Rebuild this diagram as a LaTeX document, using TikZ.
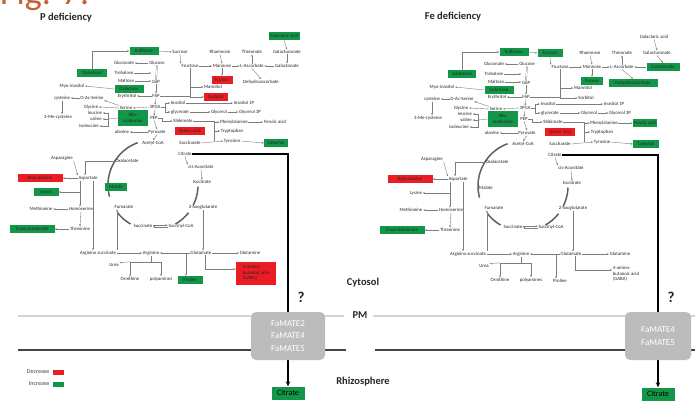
\documentclass[tikz,border=0pt]{standalone}
\usepackage{fontspec}
\setmainfont{Carlito}
\usetikzlibrary{arrows.meta}
\definecolor{gr}{RGB}{18,150,72}
\definecolor{rd}{RGB}{235,28,36}
\definecolor{figc}{RGB}{196,96,52}
\definecolor{lnk}{RGB}{125,125,125}
\definecolor{tca}{RGB}{95,95,95}
\definecolor{famc}{RGB}{188,188,188}

\newcommand\drawpanel{%
  % TCA cycle arcs
  \draw[arcst] plot[domain=110:195,samples=30] ({153+45*cos(\x)},{185-45*sin(\x)});
  \draw[arcst] plot[domain=218:240,samples=10] ({153+45*cos(\x)},{185-45*sin(\x)});
  \draw[arcst] plot[domain=-60:-38,samples=10] ({153+45*cos(\x)},{185-45*sin(\x)});
  \draw[arcst] plot[domain=-27:-2,samples=10] ({153+45*cos(\x)},{185-45*sin(\x)});
  % nodes
  \node[s-galac] (galac) at (284,36) {Galactaric acid};
  \node[s-raf] (raf) at (144,51) {Raffinose};
  \node[s-suc] (suc) at (180,52) {Sucrose};
  \node[lab] (rham) at (220,52) {Rhamnose};
  \node[lab] (thre) at (252,52) {Threonate};
  \node[lab] (galur) at (287,52) {Galacturonate};
  \node[lab] (glcn) at (124,63) {Gluconate};
  \node[lab] (glc) at (157,63) {Glucose};
  \node[lab] (fru) at (190,66) {Fructose};
  \node[lab] (man) at (222,66) {Mannose};
  \node[lab] (asc) at (252,66) {L-Ascorbate};
  \node[s-galon] (galon) at (287,66) {Galactonate};
  \node[s-galnol] (galnol) at (92,73) {Galactinol};
  \node[lab] (treh) at (124,73) {Trehalose};
  \node[lab] (malt) at (126,81) {Maltose};
  \node[lab] (g6p) at (156,82) {G6P};
  \node[s-fuc] (fuc) at (222,80) {Fucose};
  \node[s-dha] (dha) at (261,82) {Dehydroascorbate};
  \node[lab] (myo) at (72,86) {Myo-inositol};
  \node[s-galose] (galose) at (129,89) {Galactose};
  \node[lab] (mtol) at (213,87) {Mannitol};
  \node[lab] (ery) at (127,96) {Erythritol};
  \node[lab] (f6p) at (156,96) {F6P};
  \node[s-sorb] (sorb) at (216,97) {Sorbitol};
  \node[lab] (cys) at (62,98) {cysteine};
  \node[lab] (oas) at (92,98) {O-Ac-Serine};
  \node[lab] (ino) at (178,103) {Inositol};
  \node[lab] (ino1p) at (244,103) {Inositol 1P};
  \node[lab] (gly) at (91,107) {Glycine};
  \node[lab] (ser) at (126,108) {Serine};
  \node[lab] (pga) at (155,107) {3PGA};
  \node[lab] (glyc) at (180,112) {glycerate};
  \node[lab] (glol) at (219,112) {Glycerol};
  \node[lab] (g3p) at (250,112) {Glycerol 3P};
  \node[lab] (leu) at (95,113) {leucine};
  \node[lab] (val) at (96,119) {valine};
  \node[lab] (ile) at (89,126) {isoleucine};
  \node[lab] (mecys) at (58,117) {3-Me-cysteine};
  \node[s-aiso,align=center] (aiso) at (133,118) {Allo-\\Isoleucine};
  \node[lab] (pep) at (154,118) {PEP};
  \node[lab] (shik) at (183,121) {Shikimate};
  \node[lab] (phe) at (234,122) {Phenylalanine};
  \node[s-fer] (fer) at (275,122) {Ferulic acid};
  \node[lab] (ala) at (122,132) {alanine};
  \node[lab] (pyr) at (157,132) {Pyruvate};
  \node[s-qui] (qui) at (190,131) {Quinic acid};
  \node[lab] (trp) at (232,131) {Tryptophan};
  \node[lab] (acoa) at (153,143) {Acetyl-CoA};
  \node[lab] (sacc) at (190,143) {Saccharate};
  \node[lab] (tyr) at (232,141) {Tyrosine};
  \node[s-cat] (cat) at (276,143) {Catechin};
  \node[lab] (cit) at (185,154) {Citrate};
  \node[lab] (asn) at (62,158) {Asparagine};
  \node[lab] (oaa) at (127,161) {Oxalacetate};
  \node[lab] (cisa) at (201,167) {cis-Aconitate};
  \node[s-bala] (bala) at (40,178) {Beta-alanine};
  \node[lab] (asp) at (88,178) {Aspartate};
  \node[lab] (isoc) at (202,182) {Isocitrate};
  \node[s-mal] (mal) at (116,187) {Malate};
  \node[s-lys] (lys) at (46,192) {Lysine};
  \node[lab] (met) at (41,209) {Methionine};
  \node[lab] (hom) at (81,209) {Homoserine};
  \node[lab] (fum) at (124,207) {Fumarate};
  \node[lab] (oxg) at (203,207) {2-oxoglutarate};
  \node[s-obut] (obut) at (32,229) {2-oxo-butanoate};
  \node[lab] (thr) at (80,229) {Threonine};
  \node[lab] (succ) at (143,226) {Succinate};
  \node[lab] (scoa) at (181,226) {Succinyl-CoA};
  \node[lab] (args) at (98,253) {Arginino succinate};
  \node[lab] (arg) at (151,253) {Arginine};
  \node[lab] (glu) at (201,253) {Glutamate};
  \node[lab] (gln) at (250,253) {Glutamine};
  \node[lab] (urea) at (114,265) {Urea};
  \node[lab] (orn) at (130,279) {Ornithine};
  \node[lab] (pa) at (161,279) {polyamines};
  \node[s-pro] (pro) at (190,280) {Proline};
  \node[s-gaba,align=left] (gaba) at (256,273) {4-amino-\\butanoic acid\\(GABA)};
  % connectors
  \draw[ln] (galac.south) -- (galur.north);
  \draw[ln] (galur.south) -- (galon.north);
  \draw[ln] (galon.west) -- (asc.east);
  \draw[ln] (asc.north) -- (thre.south);
  \draw[ln] (rham.south) -- (man.north);
  \draw[ln] (fru.east) -- (man.west);
  \draw[ln] (man.east) -- (asc.west);
  \draw[ln] (man.south) -- (fuc.north);
  \draw[ln] (asc.south) -- (dha.north);
  \draw[ln] (raf.east) -- (suc.west);
  \draw[ln] (suc.south) -- (fru.north west);
  \draw[ln] (galnol.north) |- (raf.west);
  \draw[ln] (galose.west) -- (myo.east);
  \draw[ln] (glc.west) -- (glcn.east);
  \draw[lnk,double=white,double distance=0.8pt,line width=0.35pt] (glc.south) -- (g6p.north);
  \draw[ln] (treh.east) -- (treh.east -| g6p.west);
  \draw[ln] (malt.east) -- (malt.east -| g6p.west);
  \draw[ln] (g6p.south) -- (f6p.north);
  \draw[ln] (f6p.west) -- (ery.east);
  \draw[pl] (fru.south) -- (fru.south |- sorb.west);
  \draw[ln] (fru.south |- mtol.west) -- (mtol.west);
  \draw[ln] (fru.south |- sorb.west) -- (sorb.west);
  \draw[pl] (f6p.east) -- (fru.south |- f6p.east);
  \draw[ln] (f6p.south) -- (pga.north);
  \draw[ln] (pga.south) -- (pep.north);
  \draw[ln] (pep.south) -- (pyr.north);
  \draw[ln] (pyr.south) -- (acoa.north);
  \draw[ln] (pga.west) -- (ser.east);
  \draw[ln] (ser.west) -- (gly.east);
  \draw[ln] (ser.north west) -- (oas.south east);
  \draw[ln] (oas.west) -- (cys.east);
  \draw[ln] (cys.south) -- (cys.south |- mecys.north);
  \coordinate (j3) at ([xshift=6pt]val.east);
  \draw[pl] (j3 |- leu.east) -- (j3 |- ile.east);
  \draw[pl] (aiso.west) -- (j3);
  \draw[ln] (j3 |- leu.east) -- (leu.east);
  \draw[ln] (j3) -- (val.east);
  \draw[ln] (j3 |- ile.east) -- (ile.east);
  \draw[ln] (pyr.west) -- (ala.east);
  \coordinate (j1) at ([xshift=4pt]pga.east);
  \draw[pl] (pga.east) -- (j1);
  \draw[ln] (j1) |- (ino.west);
  \draw[ln] (j1) |- (glyc.west);
  \coordinate (j4) at ([xshift=4pt]pep.east);
  \draw[pl] (pep.east) -- (j4);
  \draw[ln] (j4) |- (shik.west);
  \draw[ln] (ino.east) -- (ino1p.west);
  \draw[ln] (glyc.east) -- (glol.west);
  \draw[ln] (glol.east) -- (g3p.west);
  \coordinate (j5) at (214,121);
  \draw[pl] (shik.east) -- (j5);
  \draw[ln] (j5) |- (phe.west);
  \draw[pl] (j5) -- (j5 |- tyr.west);
  \draw[ln] (j5 |- trp.west) -- (trp.west);
  \draw[ln] (sacc.east) -- (tyr.west);
  \draw[ln] (phe.east) -- (fer.west);
  \draw[ln] (tyr.east) -- (cat.west);
  \draw[ln] (cit.south) -- (cisa.north west);
  \draw[ln] (cisa.south) -- (isoc.north);
  \draw[ln] ([yshift=0.8pt]succ.east) -- ([yshift=0.8pt]scoa.west);
  \draw[ln] ([yshift=-0.8pt]scoa.west) -- ([yshift=-0.8pt]succ.east);
  \draw[ln] (oaa.west) -| ([xshift=-3pt]asp.north);
  \draw[ln] (asn.south east) -- (asp.north west);
  \draw[ln] (asp.west) -- (bala.east);
  \draw[ln] ([xshift=-8pt]asp.south) -- ([xshift=-8pt]asp.south |- hom.north);
  \draw[ln] ([xshift=-8pt]asp.south |- lys.east) -- (lys.east);
  \draw[ln] (hom.west) -- (met.east);
  \draw[ln] (hom.south) -- (thr.north);
  \draw[ln] (thr.west) -- (obut.east);
  \draw[ln] ([xshift=5pt]asp.south) -- ([xshift=5pt]asp.south |- args.north);
  \draw[ln] ([xshift=-7pt]fum.south |- args.north) -- ([xshift=-7pt]fum.south);
  \draw[ln] (args.east) -- (arg.west);
  \draw[ln] (glu.west) -- (arg.east);
  \draw[ln] ([xshift=-4pt]glu.west) -- ([xshift=-4pt]glu.west |- pro.north);
  \draw[ln] (oxg.south) -- (oxg.south |- glu.north);
  \draw[ln] (glu.east) -- (gln.west);
  \draw[ln] ([xshift=4pt]glu.south) |- ([yshift=4pt]gaba.west);
  \coordinate (j2) at ([yshift=-6pt]arg.south);
  \draw[pl] (arg.south) -- (j2);
  \draw[ln] (j2) -| (orn.north);
  \draw[ln] (j2) -| (pa.north);
  \draw[ln] (j2 -| orn.north) -- (urea.north east);
}

\begin{document}
\begin{tikzpicture}[x=1pt,y=-1pt,
  lab/.style={font=\fontsize{4.8}{5.4}\selectfont, inner sep=0.6pt, text=black!85},
  gbox/.style={lab, fill=gr, minimum width=#1, minimum height=8pt, inner xsep=1pt},
  rbox/.style={lab, fill=rd, minimum width=#1, minimum height=8pt, inner xsep=1pt},
  ln/.style={draw=lnk, line width=0.4pt, -{Stealth[length=2.2pt,width=1.8pt]}},
  pl/.style={draw=lnk, line width=0.4pt},
  arcst/.style={draw=tca, line width=1.5pt},
  cline/.style={draw=black, line width=2pt, -{Stealth[length=5pt,width=4.5pt]}},
  famb/.style={fill=famc, rounded corners=5pt, text=white, font=\fontsize{9}{12.5}\selectfont, align=center, minimum height=48pt, inner sep=2pt},
  citb/.style={fill=gr, text=black, font=\fontsize{8}{9}\selectfont, minimum width=33pt, minimum height=13pt, inner sep=1pt},
  qmark/.style={font=\bfseries\fontsize{15}{15}\selectfont, text=black!85},
  bigl/.style={font=\bfseries\fontsize{10.5}{11}\selectfont, text=black!85},
  legt/.style={font=\fontsize{6}{7}\selectfont, text=black!75, anchor=east, inner sep=0.5pt},
]
\useasboundingbox (0,0) rectangle (695,401);
\clip (0,0) rectangle (695,401);
\fill[white] (0,0) rectangle (695,401);

\node[anchor=base west, text=figc, font=\fontsize{36}{36}\selectfont, inner sep=0pt] (fig) at (0,5) {Fig. 7.};
\node[bigl] (ptitle) at (66,17.5) {P deficiency};
\node[bigl] (ftitle) at (453,17) {Fe deficiency};

% membranes
\draw[draw={rgb,255:red,212;green,212;blue,212}, line width=1.3pt] (18,316) -- (344,316);
\draw[draw={rgb,255:red,212;green,212;blue,212}, line width=1.3pt] (373,316) -- (695,316);
\draw[draw={rgb,255:red,70;green,70;blue,70}, line width=2.5pt] (18,350) -- (346,350);
\draw[draw={rgb,255:red,70;green,70;blue,70}, line width=2.5pt] (375,350) -- (695,350);

\node[bigl] (cyto) at (363,283) {Cytosol};
\node[bigl] (pm) at (360,315) {PM};
\node[bigl] (rhizo) at (363,382) {Rhizosphere};

% legend
\node[legt] (dec) at (50,372) {Decrease};
\node[legt] (inc) at (50,384) {Increase};
\node[fill=rd, minimum width=11pt, minimum height=5pt, inner sep=0pt, anchor=west] (decsw) at ([xshift=3pt]dec.east) {};
\node[fill=gr, minimum width=11pt, minimum height=5pt, inner sep=0pt, anchor=west] (incsw) at ([xshift=3pt]inc.east) {};

% P deficiency panel
\begin{scope}[name prefix=P-,
  s-galac/.style={gbox=31pt}, s-raf/.style={gbox=29pt}, s-suc/.style={lab},
  s-galnol/.style={gbox=30pt}, s-galose/.style={gbox=29pt}, s-fuc/.style={rbox=21pt},
  s-dha/.style={lab}, s-galon/.style={lab}, s-sorb/.style={rbox=24pt},
  s-aiso/.style={gbox=30pt, minimum height=16pt}, s-fer/.style={lab},
  s-qui/.style={rbox=30pt}, s-cat/.style={gbox=24pt}, s-bala/.style={rbox=45pt},
  s-lys/.style={gbox=25pt}, s-mal/.style={gbox=22pt}, s-obut/.style={gbox=45pt},
  s-pro/.style={gbox=25pt}, s-gaba/.style={rbox=40pt, minimum height=23pt}]
  \drawpanel
  \node[citb] (citbox) at (288,393) {Citrate};
  \draw[cline] (cit.east) -| (citbox.north);
  \node[famb, minimum width=74pt] (fam) at (288,336) {FaMATE2\\FaMATE4\\FaMATE5};
  \node[qmark] (q) at (301,297) {?};
\end{scope}

% Fe deficiency panel
\begin{scope}[shift={(370,1)}, name prefix=F-,
  s-galac/.style={lab}, s-raf/.style={gbox=29pt}, s-suc/.style={gbox=25pt},
  s-galnol/.style={gbox=28pt}, s-galose/.style={gbox=29pt}, s-fuc/.style={gbox=22pt},
  s-dha/.style={gbox=49pt, xshift=2pt}, s-galon/.style={gbox=33pt, xshift=6pt}, s-sorb/.style={lab},
  s-aiso/.style={gbox=30pt, minimum height=15pt}, s-fer/.style={gbox=24pt},
  s-qui/.style={rbox=30pt}, s-cat/.style={gbox=26pt}, s-bala/.style={rbox=45pt},
  s-lys/.style={lab}, s-mal/.style={lab}, s-obut/.style={gbox=45pt},
  s-pro/.style={lab}, s-gaba/.style={lab}]
  \drawpanel
  \node[citb] (citbox) at (288,393) {Citrate};
  \draw[cline] (cit.east) -| (citbox.north);
  \node[famb, minimum width=66pt] (fam) at (288,335) {FaMATE4\\FaMATE5};
  \node[qmark] (q) at (301,296) {?};
\end{scope}
\end{tikzpicture}
\end{document}
